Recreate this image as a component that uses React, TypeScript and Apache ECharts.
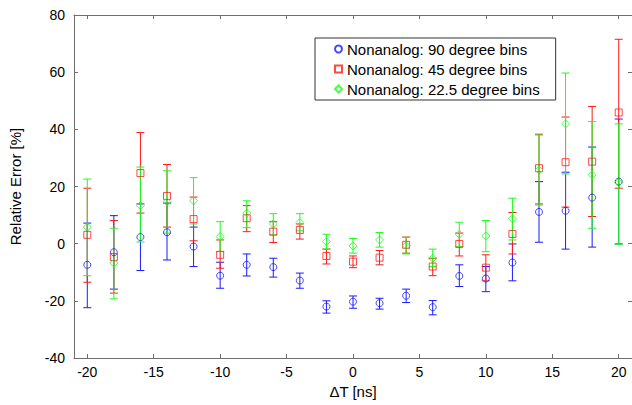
import React, { useEffect, useRef } from "react";
import * as echarts from "echarts";

const dt = [-20, -18, -16, -14, -12, -10, -8, -6, -4, -2, 0, 2, 4, 6, 8, 10, 12, 14, 16, 18, 20];
const xTicks = [-20, -15, -10, -5, 0, 5, 10, 15, 20];

const bins90 = [-7.4, -3.0, 2.3, 4.0, -1.0, -11.2, -7.4, -8.2, -12.9, -22.0, -20.3, -20.8, -18.2, -22.2, -11.3, -12.2, -6.6, 11.1, 11.5, 16.1, 21.7];
const bins90Low = [-22.4, -15.9, -9.4, -5.7, -8.0, -15.6, -11.3, -11.7, -15.6, -24.3, -22.6, -22.9, -20.6, -24.9, -15.0, -16.8, -13.0, 0.5, -1.9, -1.2, -0.1];
const bins90High = [7.2, 9.8, 13.9, 14.2, 5.8, -6.5, -3.6, -5.1, -10.3, -20.0, -18.3, -19.1, -15.9, -19.9, -7.4, -8.0, -0.1, 21.7, 25.0, 33.8, 43.6];

const bins45 = [3.1, -4.7, 24.7, 16.7, 8.6, -3.9, 8.9, 4.2, 4.8, -4.3, -6.3, -4.9, -0.4, -8.0, -0.1, -8.4, 3.4, 26.4, 28.5, 28.7, 45.9];
const bins45Low = [-13.5, -17.3, 10.7, 5.8, 1.0, -8.6, 4.2, 0.4, 1.6, -7.1, -8.4, -7.4, -3.3, -11.2, -4.3, -13.0, -3.6, 13.9, 12.8, 9.5, 19.4];
const bins45High = [19.4, 8.1, 38.9, 27.7, 16.3, 1.3, 13.3, 7.7, 6.9, -1.9, -4.3, -2.4, 2.3, -5.1, 3.7, -3.9, 10.9, 38.3, 44.3, 48.0, 71.5];

const bins22 = [5.8, -6.8, 13.3, 14.6, 15.0, 2.5, 10.7, 6.9, 7.4, 0.7, -0.8, 1.3, -0.7, -5.1, 3.3, 2.7, 8.7, 25.8, 41.9, 24.1, 21.4];
const bins22Low = [-11.2, -19.3, 0.6, 3.7, 6.9, -2.8, 5.6, 3.1, 4.5, -1.9, -3.3, -1.2, -3.6, -8.0, -1.0, -2.8, 1.3, 13.5, 24.4, 5.4, -0.2];
const bins22High = [22.6, 5.4, 26.8, 25.5, 23.1, 7.7, 15.0, 10.5, 10.5, 3.3, 1.8, 3.9, 2.2, -1.9, 7.5, 8.1, 15.9, 38.0, 59.7, 42.7, 41.9];

const FONT = "'Liberation Sans', Arial, Helvetica, sans-serif";
const AXIS_COLOR = "#6e6e6e";

type SeriesDef = {
  name: string;
  color: string;
  symbol: string;
  size: number;
  values: number[];
  low: number[];
  high: number[];
};

const seriesDefs: SeriesDef[] = [
  { name: "Nonanalog: 90 degree bins", color: "#1a1aff", symbol: "circle", size: 7, values: bins90, low: bins90Low, high: bins90High },
  { name: "Nonanalog: 45 degree bins", color: "#ff1a1a", symbol: "rect", size: 7, values: bins45, low: bins45Low, high: bins45High },
  { name: "Nonanalog: 22.5 degree bins", color: "#1aff1a", symbol: "diamond", size: 8, values: bins22, low: bins22Low, high: bins22High },
];

function makeErrorRender(color: string) {
  return (params: any, api: any) => {
    const x = api.value(0);
    const lo = api.coord([x, api.value(1)]);
    const hi = api.coord([x, api.value(2)]);
    const hw = 4;
    const style = { stroke: color, lineWidth: 1, fill: "none" };
    return {
      type: "group",
      children: [
        { type: "line", shape: { x1: lo[0], y1: lo[1], x2: hi[0], y2: hi[1] }, style },
        { type: "line", shape: { x1: lo[0] - hw, y1: lo[1], x2: lo[0] + hw, y2: lo[1] }, style },
        { type: "line", shape: { x1: hi[0] - hw, y1: hi[1], x2: hi[0] + hw, y2: hi[1] }, style },
      ],
    };
  };
}

export default function App() {
  const ref = useRef<HTMLDivElement>(null);

  useEffect(() => {
    if (!ref.current) return;
    const chart = echarts.init(ref.current, undefined, { renderer: "svg" });

    const series: any[] = [];
    seriesDefs.forEach((s) => {
      series.push({
        name: s.name + " error",
        type: "custom",
        xAxisIndex: 0,
        yAxisIndex: 0,
        renderItem: makeErrorRender(s.color),
        encode: { x: 0, y: [1, 2] },
        data: dt.map((x, i) => [x, s.low[i], s.high[i]]),
        z: 2,
      });
      series.push({
        name: s.name,
        type: "scatter",
        xAxisIndex: 0,
        yAxisIndex: 0,
        symbol: s.symbol,
        symbolSize: s.size,
        itemStyle: { color: "rgba(255,255,255,0)", borderColor: s.color, borderWidth: 1 },
        data: dt.map((x, i) => [x, s.values[i]]),
        z: 3,
      });
    });

    const baseX = {
      type: "value",
      min: -21,
      max: 21,
      splitLine: { show: false },
      axisLine: { show: true, onZero: false, lineStyle: { color: AXIS_COLOR, width: 1 } },
      axisTick: { show: true, inside: true, length: 4, customValues: xTicks, lineStyle: { color: AXIS_COLOR } },
    };
    const baseY = {
      type: "value",
      min: -40,
      max: 80,
      interval: 20,
      splitLine: { show: false },
      axisLine: { show: true, onZero: false, lineStyle: { color: AXIS_COLOR, width: 1 } },
      axisTick: { show: true, inside: true, length: 4, lineStyle: { color: AXIS_COLOR } },
    };

    chart.setOption({
      animation: false,
      backgroundColor: "#ffffff",
      grid: { left: 74, top: 15, width: 564, height: 343 },
      legend: {
        data: seriesDefs.map((s) => s.name),
        orient: "vertical",
        left: 315,
        top: 38,
        itemWidth: 7,
        itemHeight: 7,
        itemGap: 4,
        padding: [3, 16, 3, 19],
        borderColor: "#333",
        borderWidth: 1,
        backgroundColor: "#fff",
        selectedMode: false,
        textStyle: { fontFamily: FONT, fontSize: 15, color: "#000", lineHeight: 16 },
      },
      xAxis: [
        {
          ...baseX,
          position: "bottom",
          name: "ΔT [ns]",
          nameLocation: "middle",
          nameGap: 26,
          nameTextStyle: { fontFamily: FONT, fontSize: 15, color: "#000" },
          axisLabel: { show: true, customValues: xTicks, margin: 7, fontFamily: FONT, fontSize: 14, color: "#000" },
        },
        { ...baseX, position: "top", axisLabel: { show: false } },
      ],
      yAxis: [
        {
          ...baseY,
          position: "left",
          name: "Relative Error [%]",
          nameLocation: "middle",
          nameGap: 51,
          nameTextStyle: { fontFamily: FONT, fontSize: 15, color: "#000" },
          axisLabel: { show: true, margin: 9, fontFamily: FONT, fontSize: 14, color: "#000" },
        },
        { ...baseY, position: "right", axisLabel: { show: false } },
      ],
      series,
    });

    return () => chart.dispose();
  }, []);

  return (
    <div
      ref={ref}
      style={{ position: "absolute", left: 0, top: 0, width: 632, height: 405, background: "#fff" }}
    />
  );
}
